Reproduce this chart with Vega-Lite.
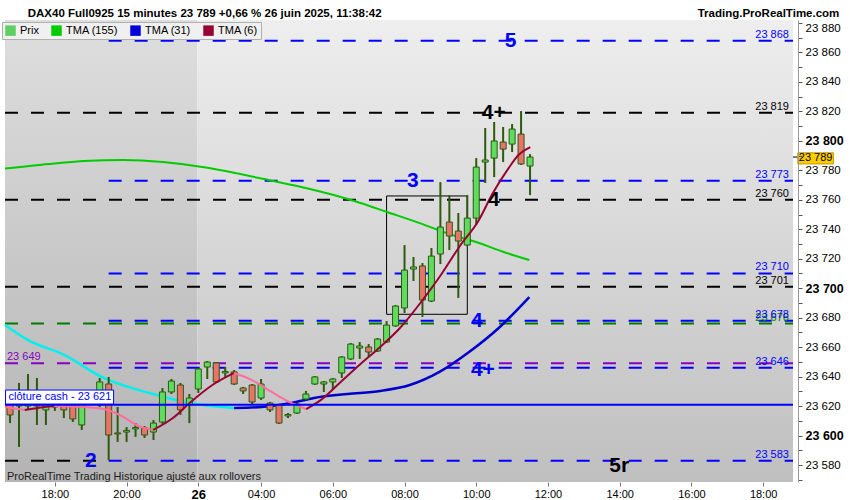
{
"$schema": "https://vega.github.io/schema/vega-lite/v6.json",
"width": 798,
"height": 462,
"autosize": "none",
"padding": {"left": 0, "top": 20, "right": 52, "bottom": 18},
"background": "#ffffff",
"config": {"view": {"stroke": null}, "font": "Liberation Sans", "locale": {"number": {"decimal": ",", "thousands": " ", "grouping": [3], "currency": ["", " €"]}}},
"datasets": {
"candles": [
{"i":-5,"o":23624.8,"h":23626.2,"l":23608.5,"c":23614.0},
{"i":-4,"o":23620.1,"h":23635.7,"l":23592.3,"c":23622.1},
{"i":-3,"o":23620.1,"h":23641.8,"l":23618.0,"c":23622.8},
{"i":-2,"o":23622.8,"h":23639.1,"l":23607.2,"c":23620.1},
{"i":-1,"o":23617.4,"h":23624.2,"l":23607.2,"c":23621.4},
{"i":0,"o":23619.4,"h":23622.8,"l":23616.7,"c":23620.8},
{"i":1,"o":23621.4,"h":23622.8,"l":23611.9,"c":23617.4},
{"i":2,"o":23621.4,"h":23623.5,"l":23609.2,"c":23611.3},
{"i":3,"o":23607.2,"h":23624.2,"l":23603.8,"c":23622.1},
{"i":4,"o":23622.1,"h":23629.6,"l":23620.8,"c":23626.9},
{"i":5,"o":23620.8,"h":23639.1,"l":23619.4,"c":23636.4},
{"i":6,"o":23635.0,"h":23639.8,"l":23583.4,"c":23600.4},
{"i":7,"o":23601.8,"h":23619.4,"l":23595.7,"c":23601.1},
{"i":8,"o":23602.4,"h":23605.8,"l":23595.7,"c":23603.5},
{"i":9,"o":23604.5,"h":23608.5,"l":23599.1,"c":23605.5},
{"i":10,"o":23605.2,"h":23606.5,"l":23598.4,"c":23600.4},
{"i":11,"o":23602.4,"h":23610.6,"l":23597.0,"c":23608.5},
{"i":12,"o":23609.2,"h":23632.3,"l":23607.9,"c":23629.6},
{"i":13,"o":23629.6,"h":23638.4,"l":23628.2,"c":23637.0},
{"i":14,"o":23634.3,"h":23635.7,"l":23614.0,"c":23617.4},
{"i":15,"o":23620.8,"h":23628.2,"l":23608.5,"c":23625.5},
{"i":16,"o":23631.6,"h":23645.9,"l":23628.9,"c":23645.2},
{"i":17,"o":23646.5,"h":23650.6,"l":23638.4,"c":23649.9},
{"i":18,"o":23649.3,"h":23649.9,"l":23635.7,"c":23636.4},
{"i":19,"o":23642.5,"h":23646.5,"l":23639.1,"c":23643.5},
{"i":20,"o":23643.2,"h":23644.5,"l":23634.3,"c":23635.0},
{"i":21,"o":23632.3,"h":23633.0,"l":23628.2,"c":23630.3},
{"i":22,"o":23634.3,"h":23635.0,"l":23621.4,"c":23622.8},
{"i":23,"o":23625.5,"h":23638.4,"l":23624.2,"c":23635.0},
{"i":24,"o":23622.1,"h":23622.8,"l":23616.0,"c":23617.4},
{"i":25,"o":23620.8,"h":23621.4,"l":23607.9,"c":23608.5},
{"i":26,"o":23613.3,"h":23615.3,"l":23611.9,"c":23614.3},
{"i":27,"o":23615.3,"h":23622.1,"l":23614.7,"c":23621.4},
{"i":28,"o":23624.8,"h":23630.3,"l":23624.2,"c":23628.2},
{"i":29,"o":23635.0,"h":23640.4,"l":23634.3,"c":23639.8},
{"i":30,"o":23635.0,"h":23637.0,"l":23629.6,"c":23636.4},
{"i":31,"o":23636.4,"h":23639.1,"l":23631.6,"c":23638.4},
{"i":32,"o":23642.5,"h":23654.0,"l":23639.1,"c":23653.3},
{"i":33,"o":23652.0,"h":23662.8,"l":23651.3,"c":23662.1},
{"i":34,"o":23659.4,"h":23663.5,"l":23652.0,"c":23660.8},
{"i":35,"o":23660.1,"h":23662.1,"l":23653.3,"c":23656.7},
{"i":36,"o":23657.4,"h":23666.2,"l":23656.7,"c":23665.5},
{"i":37,"o":23663.5,"h":23677.7,"l":23662.8,"c":23675.0},
{"i":38,"o":23674.4,"h":23688.6,"l":23673.8,"c":23687.9},
{"i":39,"o":23686.6,"h":23729.3,"l":23683.2,"c":23712.3},
{"i":40,"o":23713.0,"h":23721.2,"l":23704.9,"c":23714.4},
{"i":41,"o":23715.1,"h":23717.1,"l":23680.5,"c":23692.0},
{"i":42,"o":23691.3,"h":23727.3,"l":23690.6,"c":23721.8},
{"i":43,"o":23723.2,"h":23772.0,"l":23716.4,"c":23741.5},
{"i":44,"o":23744.9,"h":23763.2,"l":23725.9,"c":23735.4},
{"i":45,"o":23738.8,"h":23751.0,"l":23693.4,"c":23732.0},
{"i":46,"o":23729.3,"h":23763.2,"l":23728.6,"c":23747.6},
{"i":47,"o":23747.6,"h":23788.3,"l":23742.9,"c":23782.2},
{"i":48,"o":23785.6,"h":23808.7,"l":23771.4,"c":23787.0},
{"i":49,"o":23788.3,"h":23812.8,"l":23775.4,"c":23799.9},
{"i":50,"o":23799.2,"h":23809.4,"l":23785.6,"c":23794.4},
{"i":51,"o":23797.8,"h":23811.4,"l":23792.4,"c":23808.0},
{"i":52,"o":23804.6,"h":23820.2,"l":23783.6,"c":23784.3},
{"i":53,"o":23782.9,"h":23791.0,"l":23763.2,"c":23789.0}
],
"tma": [
{"ma":"155","seg":"g","dir":"down","i":-5.56,"v":23781.2},
{"ma":"155","seg":"g","dir":"down","i":-0.06,"v":23784.6},
{"ma":"155","seg":"g","dir":"down","i":3.25,"v":23786.3},
{"ma":"155","seg":"g","dir":"down","i":7.65,"v":23787.0},
{"ma":"155","seg":"g","dir":"down","i":12.06,"v":23785.6},
{"ma":"155","seg":"g","dir":"down","i":16.46,"v":23782.2},
{"ma":"155","seg":"g","dir":"down","i":20.10,"v":23778.2},
{"ma":"155","seg":"g","dir":"down","i":23.84,"v":23773.4},
{"ma":"155","seg":"g","dir":"down","i":27.48,"v":23768.7},
{"ma":"155","seg":"g","dir":"down","i":31.11,"v":23763.2},
{"ma":"155","seg":"g","dir":"down","i":34.09,"v":23757.8},
{"ma":"155","seg":"g","dir":"down","i":37.06,"v":23751.7},
{"ma":"155","seg":"g","dir":"down","i":40.69,"v":23744.2},
{"ma":"155","seg":"g","dir":"down","i":44.0,"v":23736.8},
{"ma":"155","seg":"g","dir":"down","i":47.3,"v":23730.7},
{"ma":"155","seg":"g","dir":"down","i":50.06,"v":23724.6},
{"ma":"155","seg":"g","dir":"down","i":52.92,"v":23719.1},
{"ma":"31","seg":"a","dir":"down","i":-5.56,"v":23675.0},
{"ma":"31","seg":"a","dir":"down","i":-3.03,"v":23664.9},
{"ma":"31","seg":"a","dir":"down","i":1.05,"v":23654.7},
{"ma":"31","seg":"a","dir":"down","i":5.45,"v":23639.1},
{"ma":"31","seg":"a","dir":"down","i":10.96,"v":23628.2},
{"ma":"31","seg":"a","dir":"down","i":15.03,"v":23622.1},
{"ma":"31","seg":"a","dir":"down","i":19.99,"v":23618.7},
{"ma":"31","seg":"b","dir":"up","i":19.99,"v":23618.7},
{"ma":"31","seg":"b","dir":"up","i":23.07,"v":23619.4},
{"ma":"31","seg":"b","dir":"up","i":26.38,"v":23622.1},
{"ma":"31","seg":"b","dir":"up","i":28.91,"v":23625.5},
{"ma":"31","seg":"b","dir":"up","i":32.65,"v":23628.2},
{"ma":"31","seg":"b","dir":"up","i":36.29,"v":23630.3},
{"ma":"31","seg":"b","dir":"up","i":39.59,"v":23634.3},
{"ma":"31","seg":"b","dir":"up","i":42.90,"v":23643.2},
{"ma":"31","seg":"b","dir":"up","i":46.20,"v":23656.7},
{"ma":"31","seg":"b","dir":"up","i":49.51,"v":23673.0},
{"ma":"31","seg":"b","dir":"up","i":52.92,"v":23694.0},
{"ma":"6","seg":"a","dir":"down","i":-5.56,"v":23619.4},
{"ma":"6","seg":"a","dir":"down","i":-3.36,"v":23617.4},
{"ma":"6","seg":"b","dir":"up","i":-3.36,"v":23617.4},
{"ma":"6","seg":"b","dir":"up","i":-1.16,"v":23619.4},
{"ma":"6","seg":"b","dir":"up","i":-0.06,"v":23620.1},
{"ma":"6","seg":"c","dir":"down","i":-0.06,"v":23620.1},
{"ma":"6","seg":"c","dir":"down","i":3.25,"v":23619.4},
{"ma":"6","seg":"c","dir":"down","i":5.45,"v":23618.0},
{"ma":"6","seg":"c","dir":"down","i":7.65,"v":23612.6},
{"ma":"6","seg":"c","dir":"down","i":9.31,"v":23606.5},
{"ma":"6","seg":"c","dir":"down","i":10.96,"v":23603.8},
{"ma":"6","seg":"d","dir":"up","i":10.96,"v":23603.8},
{"ma":"6","seg":"d","dir":"up","i":13.16,"v":23611.9},
{"ma":"6","seg":"d","dir":"up","i":15.03,"v":23622.1},
{"ma":"6","seg":"d","dir":"up","i":17.57,"v":23634.3},
{"ma":"6","seg":"d","dir":"up","i":19.99,"v":23642.5},
{"ma":"6","seg":"e","dir":"down","i":19.99,"v":23642.5},
{"ma":"6","seg":"e","dir":"down","i":21.97,"v":23637.7},
{"ma":"6","seg":"e","dir":"down","i":24.17,"v":23629.6},
{"ma":"6","seg":"e","dir":"down","i":26.38,"v":23622.1},
{"ma":"6","seg":"e","dir":"down","i":28.03,"v":23618.0},
{"ma":"6","seg":"f","dir":"up","i":28.03,"v":23618.0},
{"ma":"6","seg":"f","dir":"up","i":29.68,"v":23624.2},
{"ma":"6","seg":"f","dir":"up","i":31.88,"v":23636.4},
{"ma":"6","seg":"f","dir":"up","i":34.09,"v":23648.6},
{"ma":"6","seg":"f","dir":"up","i":36.29,"v":23660.1},
{"ma":"6","seg":"f","dir":"up","i":38.49,"v":23673.0},
{"ma":"6","seg":"f","dir":"up","i":41.02,"v":23692.0},
{"ma":"6","seg":"f","dir":"up","i":42.90,"v":23707.6},
{"ma":"6","seg":"f","dir":"up","i":45.10,"v":23728.0},
{"ma":"6","seg":"f","dir":"up","i":47.30,"v":23746.3},
{"ma":"6","seg":"f","dir":"up","i":48.73,"v":23763.2},
{"ma":"6","seg":"f","dir":"up","i":50.61,"v":23781.5},
{"ma":"6","seg":"f","dir":"up","i":51.71,"v":23790.4},
{"ma":"6","seg":"f","dir":"up","i":53.03,"v":23795.8}
],
"levels": [
{"v":23868,"k":"blue","x0":6,"x1":82.33},
{"v":23819,"k":"black","x0":-5.562,"x1":82.33},
{"v":23773,"k":"blue","x0":6,"x1":82.33},
{"v":23760,"k":"black","x0":-5.562,"x1":82.33},
{"v":23710,"k":"blue","x0":6,"x1":82.33},
{"v":23701,"k":"black","x0":-5.562,"x1":82.33},
{"v":23676,"k":"green","x0":-5.562,"x1":82.33},
{"v":23678,"k":"blue","x0":6,"x1":82.33},
{"v":23649,"k":"purple","x0":-5.562,"x1":82.33},
{"v":23646,"k":"blue","x0":6,"x1":82.33},
{"v":23583,"k":"black","x0":-5.562,"x1":6},
{"v":23583,"k":"blue","x0":6,"x1":82.33}
],
"levelLabels": [
{"t":"23 868","v":23868,"k":"blue"},
{"t":"23 819","v":23819,"k":"black"},
{"t":"23 773","v":23773,"k":"blue"},
{"t":"23 760","v":23760,"k":"black"},
{"t":"23 710","v":23710,"k":"blue"},
{"t":"23 701","v":23701,"k":"black"},
{"t":"23 676","v":23676,"k":"green"},
{"t":"23 678","v":23678,"k":"blue"},
{"t":"23 646","v":23646,"k":"blue"},
{"t":"23 583","v":23583,"k":"blue"}
],
"waves": [
{"t":"5","i":50.83,"v":23868,"k":"blue"},
{"t":"4+","i":48.95,"v":23819,"k":"black"},
{"t":"3","i":39.92,"v":23773,"k":"blue"},
{"t":"4","i":48.95,"v":23760,"k":"black"},
{"t":"4","i":47.08,"v":23678,"k":"blue"},
{"t":"4+","i":47.74,"v":23644.5,"k":"blue"},
{"t":"2","i":4.02,"v":23583,"k":"blue"},
{"t":"5r","i":62.94,"v":23579.4,"k":"black"}
],
"bg": [
{"x0": -5.562, "x1": 15.9, "y0": 23568.5, "y1": 23882, "part": "left"},
{"x0": 15.9, "x1": 82.33, "y0": 23568.5, "y1": 23882, "part": "right"}
]
},
"layer": [
{
"data": {"name": "bg"},
"transform": [{"filter": "datum.part === 'left'"}],
"mark": {"type": "rect", "color": {"gradient": "linear", "x1": 0, "y1": 0, "x2": 0, "y2": 1, "stops": [{"offset": 0, "color": "#dedede"}, {"offset": 1, "color": "#b4b4b4"}]}},
"encoding": {
"x": {"field": "x0", "type": "quantitative", "scale": {"domain": [-5.562, 82.33], "nice": false, "zero": false},
 "axis": {"orient": "bottom", "title": null, "grid": false, "domain": false, "zindex": 1, "tickCount": 40, "values": [0, 8, 16, 23, 31, 39, 47, 55, 63, 71, 79],
  "labelExpr": "['18:00','20:00','26','04:00','06:00','08:00','10:00','12:00','14:00','16:00','18:00'][indexof([0,8,16,23,31,39,47,55,63,71,79], datum.value)]",
  "tickColor": "#777777", "tickSize": 4, "labelFont": "Liberation Sans", "labelColor": "#000000", "labelPadding": 2,
  "labelFontSize": {"condition": {"test": "datum.value === 16", "value": 13}, "value": 11},
  "labelFontWeight": {"condition": {"test": "datum.value === 16", "value": "bold"}, "value": "normal"}}},
"x2": {"field": "x1"},
"y": {"field": "y0", "type": "quantitative", "scale": {"domain": [23568.5, 23882], "nice": false, "zero": false},
 "axis": {"orient": "right", "title": null, "grid": false, "zindex": 1, "domainColor": "#999999", "tickColor": "#555555", "tickSize": 4,
  "tickCount": 60,
  "values": [23570,23580,23590,23600,23610,23620,23630,23640,23650,23660,23670,23680,23690,23700,23710,23720,23730,23740,23750,23760,23770,23780,23790,23800,23810,23820,23830,23840,23850,23860,23870,23880],
  "format": ",d", "labelOverlap": false, "labelFlush": 5,
  "labelExpr": "datum.value % 20 === 0 ? datum.label : ''",
  "labelFont": "Liberation Sans", "labelColor": "#000000", "labelPadding": 3,
  "labelFontSize": {"condition": {"test": "datum.value % 100 === 0", "value": 12.5}, "value": 11.5},
  "labelFontWeight": {"condition": {"test": "datum.value % 100 === 0", "value": "bold"}, "value": "normal"}}},
"y2": {"field": "y1"}
}
},
{
"data": {"name": "bg"},
"transform": [{"filter": "datum.part === 'right'"}],
"mark": {"type": "rect", "color": {"gradient": "linear", "x1": 0, "y1": 0, "x2": 0, "y2": 1, "stops": [{"offset": 0, "color": "#eeeeee"}, {"offset": 1, "color": "#bfbfbf"}]}},
"encoding": {"x": {"field": "x0", "type": "quantitative"}, "x2": {"field": "x1"}, "y": {"field": "y0", "type": "quantitative"}, "y2": {"field": "y1"}}
},
{
"data": {"name": "levels"},
"mark": {"type": "rule", "strokeDash": [13, 13], "strokeWidth": 2},
"encoding": {
"x": {"field": "x0", "type": "quantitative"}, "x2": {"field": "x1"},
"y": {"field": "v", "type": "quantitative"},
"color": {"condition": [{"test": "datum.k === 'black'", "value": "#000000"}, {"test": "datum.k === 'green'", "value": "#007a00"}, {"test": "datum.k === 'purple'", "value": "#8a00c0"}], "value": "#0000ff"}
}
},
{
"data": {"values": [{"x0": 37, "x1": 46, "lo": 23682.3, "hi": 23762.6}]},
"mark": {"type": "rect", "fill": "transparent", "stroke": "#000000", "strokeWidth": 1},
"encoding": {"x": {"field": "x0", "type": "quantitative"}, "x2": {"field": "x1"}, "y": {"field": "lo", "type": "quantitative"}, "y2": {"field": "hi"}}
},
{
"data": {"name": "tma"},
"transform": [{"filter": "datum.ma === '155'"}],
"mark": {"type": "line", "strokeWidth": 2, "interpolate": "monotone", "color": "#00cc00"},
"encoding": {"x": {"field": "i", "type": "quantitative"}, "y": {"field": "v", "type": "quantitative"}, "detail": {"field": "seg"}}
},
{
"data": {"name": "tma"},
"transform": [{"filter": "datum.ma === '31'"}],
"mark": {"type": "line", "strokeWidth": 2.5, "interpolate": "monotone"},
"encoding": {"x": {"field": "i", "type": "quantitative"}, "y": {"field": "v", "type": "quantitative"}, "detail": {"field": "seg"},
"color": {"condition": {"test": "datum.dir === 'up'", "value": "#0000cc"}, "value": "#00f0f0"}}
},
{
"data": {"name": "candles"},
"mark": {"type": "rule", "color": "#2d5a0e", "strokeWidth": 2},
"encoding": {"x": {"field": "i", "type": "quantitative"}, "y": {"field": "l", "type": "quantitative"}, "y2": {"field": "h"}}
},
{
"data": {"name": "candles"},
"mark": {"type": "bar", "width": 6, "stroke": "#2d5a0e", "strokeWidth": 1, "orient": "vertical"},
"encoding": {"x": {"field": "i", "type": "quantitative"}, "y": {"field": "o", "type": "quantitative"}, "y2": {"field": "c"},
"fill": {"condition": {"test": "datum.c >= datum.o", "value": "#5fdc5f"}, "value": "#e8736b"}}
},
{
"data": {"name": "tma"},
"transform": [{"filter": "datum.ma === '6'"}],
"mark": {"type": "line", "strokeWidth": 2, "interpolate": "monotone"},
"encoding": {"x": {"field": "i", "type": "quantitative"}, "y": {"field": "v", "type": "quantitative"}, "detail": {"field": "seg"},
"color": {"condition": {"test": "datum.dir === 'up'", "value": "#990033"}, "value": "#ff6e9e"}}
},
{
"data": {"values": [{"x0": -5.562, "x1": 82.33, "v": 23621}]},
"mark": {"type": "rule", "color": "#0000ff", "strokeWidth": 2},
"encoding": {"x": {"field": "x0", "type": "quantitative"}, "x2": {"field": "x1"}, "y": {"field": "v", "type": "quantitative"}}
},
{
"data": {"values": [{"x0": -5.5, "x1": 6.55, "lo": 23621.4, "hi": 23630.9}]},
"mark": {"type": "rect", "fill": "#ffffff", "stroke": "#0000ff", "strokeWidth": 1},
"encoding": {"x": {"field": "x0", "type": "quantitative"}, "x2": {"field": "x1"}, "y": {"field": "lo", "type": "quantitative"}, "y2": {"field": "hi"}}
},
{
"data": {"values": [{"t": "clôture cash -  23 621", "i": -5.5, "v": 23626.1}]},
"mark": {"type": "text", "align": "left", "baseline": "middle", "dx": 3, "fontSize": 11, "font": "Liberation Sans", "color": "#0000ff"},
"encoding": {"x": {"field": "i", "type": "quantitative"}, "y": {"field": "v", "type": "quantitative"}, "text": {"field": "t"}}
},
{
"data": {"name": "levelLabels"},
"mark": {"type": "text", "align": "right", "baseline": "alphabetic", "dy": -3, "fontSize": 11, "font": "Liberation Sans"},
"encoding": {"x": {"datum": 81.88, "type": "quantitative"}, "y": {"field": "v", "type": "quantitative"}, "text": {"field": "t"},
"color": {"condition": [{"test": "datum.k === 'black'", "value": "#000000"}, {"test": "datum.k === 'green'", "value": "#007a00"}], "value": "#0000ff"}}
},
{
"data": {"values": [{"t": "23 649", "i": -5.562, "v": 23649}]},
"mark": {"type": "text", "align": "left", "baseline": "alphabetic", "dx": 2, "dy": -3, "fontSize": 11, "font": "Liberation Sans", "color": "#8a00c0"},
"encoding": {"x": {"field": "i", "type": "quantitative"}, "y": {"field": "v", "type": "quantitative"}, "text": {"field": "t"}}
},
{
"data": {"name": "waves"},
"mark": {"type": "text", "align": "center", "baseline": "middle", "fontSize": 21, "fontWeight": "bold", "font": "Liberation Sans"},
"encoding": {"x": {"field": "i", "type": "quantitative"}, "y": {"field": "v", "type": "quantitative"}, "text": {"field": "t"},
"color": {"condition": {"test": "datum.k === 'black'", "value": "#000000"}, "value": "#0000ff"}}
},
{
"data": {"values": [{"t": "ProRealTime Trading  Historique ajusté aux rollovers", "i": -5.562, "v": 23572.1}]},
"mark": {"type": "text", "align": "left", "baseline": "middle", "dx": 2, "fontSize": 11, "font": "Liberation Sans", "color": "#202020"},
"encoding": {"x": {"field": "i", "type": "quantitative"}, "y": {"field": "v", "type": "quantitative"}, "text": {"field": "t"}}
},
{
"data": {"values": [{"x0": 82.33, "x1": 82.87, "v": 23789}]},
"mark": {"type": "rule", "color": "#000000", "strokeWidth": 1},
"encoding": {"x": {"field": "x0", "type": "quantitative"}, "x2": {"field": "x1"}, "y": {"field": "v", "type": "quantitative"}}
},
{
"data": {"values": [{"x0": 82.87, "x1": 86.84, "lo": 23784.3, "hi": 23791.9}]},
"mark": {"type": "rect", "fill": "#ffcc00", "stroke": "#c79a00", "strokeWidth": 1},
"encoding": {"x": {"field": "x0", "type": "quantitative"}, "x2": {"field": "x1"}, "y": {"field": "lo", "type": "quantitative"}, "y2": {"field": "hi"}}
},
{
"data": {"values": [{"t": "23 789", "i": 84.85, "v": 23788.1}]},
"mark": {"type": "text", "align": "center", "baseline": "middle", "fontSize": 11, "font": "Liberation Sans", "color": "#000000"},
"encoding": {"x": {"field": "i", "type": "quantitative"}, "y": {"field": "v", "type": "quantitative"}, "text": {"field": "t"}}
},
{
"data": {"values": [{"t": "DAX40 Full0925 15 minutes 23 789 +0,66 % 26 juin 2025, 11:38:42", "i": -3.03, "v": 23884.3}]},
"mark": {"type": "text", "align": "left", "baseline": "alphabetic", "fontSize": 11.5, "fontWeight": "bold", "font": "Liberation Sans", "color": "#000000"},
"encoding": {"x": {"field": "i", "type": "quantitative"}, "y": {"field": "v", "type": "quantitative"}, "text": {"field": "t"}}
},
{
"data": {"values": [{"t": "Trading.ProRealTime.com", "i": 87.5, "v": 23884.3}]},
"mark": {"type": "text", "align": "right", "baseline": "alphabetic", "fontSize": 11.5, "fontWeight": "bold", "font": "Liberation Sans", "color": "#000000"},
"encoding": {"x": {"field": "i", "type": "quantitative"}, "y": {"field": "v", "type": "quantitative"}, "text": {"field": "t"}}
},
{
"data": {"values": [{"s": "Prix"}, {"s": "TMA (155)"}, {"s": "TMA (31)"}, {"s": "TMA (6)"}]},
"mark": {"type": "square", "clip": true, "size": 100},
"encoding": {
"x": {"datum": -60, "type": "quantitative"},
"y": {"datum": 23000, "type": "quantitative"},
"color": {"field": "s", "type": "nominal",
 "scale": {"domain": ["Prix", "TMA (155)", "TMA (31)", "TMA (6)"], "range": ["#5fcf5f", "#00cc00", "#0000dd", "#990033"]},
 "legend": {"orient": "none", "legendX": 2, "legendY": 2, "direction": "horizontal", "title": null, "symbolType": "square", "symbolSize": 110,
  "labelFontSize": 11, "labelFont": "Liberation Sans", "labelColor": "#000000", "columnPadding": 12, "padding": 3,
  "fillColor": "#f0f0f0", "strokeColor": "#b0b0b0", "labelOffset": 4, "symbolStrokeWidth": 0, "symbolOpacity": 1}}
}
}
]
}
